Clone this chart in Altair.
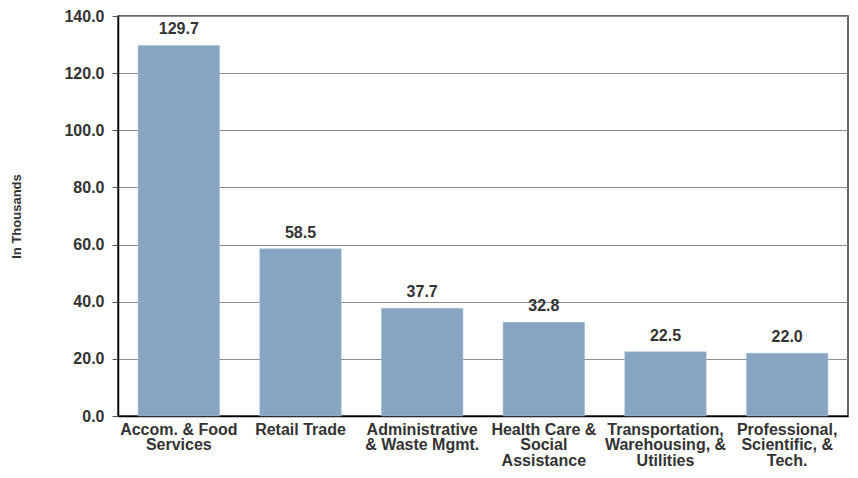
import altair as alt
import pandas as pd

categories = [
    "Accom. & Food|Services",
    "Retail Trade",
    "Administrative|& Waste Mgmt.",
    "Health Care &|Social|Assistance",
    "Transportation,|Warehousing, &|Utilities",
    "Professional,|Scientific, &|Tech.",
]
values = [129.7, 58.5, 37.7, 32.8, 22.5, 22.0]

df = pd.DataFrame({"cat": categories, "val": values})

FONT = "Liberation Sans"

x = alt.X(
    "cat:N",
    sort=categories,
    scale=alt.Scale(paddingInner=0.33, paddingOuter=0.165),
    axis=alt.Axis(
        title=None,
        labelAngle=0,
        labelExpr="split(datum.label, '|')",
        labelFont=FONT,
        labelFontSize=16,
        labelFontWeight="bold",
        labelColor="#333333",
        labelLineHeight=15.5,
        labelPadding=5,
        labelBaseline="top",
        ticks=False,
        domainColor="#000000",
        domainWidth=1.5,
    ),
)

y = alt.Y(
    "val:Q",
    scale=alt.Scale(domain=[0, 140], nice=False),
    axis=alt.Axis(
        title="In Thousands",
        values=[0, 20, 40, 60, 80, 100, 120, 140],
        format=".1f",
        labelFont=FONT,
        labelFontSize=16,
        labelFontWeight="bold",
        labelColor="#333333",
        labelPadding=8,
        titleFont=FONT,
        titleFontSize=13,
        titleFontWeight="bold",
        titleColor="#333333",
        titlePadding=40,
        tickColor="#555555",
        tickSize=6,
        domainColor="#000000",
        domainWidth=1.5,
        gridColor="#8c8c8c",
        gridWidth=1,
    ),
)

bars = alt.Chart(df).mark_bar(color="#87a5c3", stroke="#a9bfd5", strokeWidth=0.5).encode(x=x, y=y)

labels = alt.Chart(df).mark_text(
    font=FONT, fontSize=16, fontWeight="bold", color="#333333",
    baseline="bottom", dy=-8,
).encode(x=alt.X("cat:N", sort=categories), y="val:Q", text=alt.Text("val:Q", format=".1f"))

chart = (
    alt.layer(bars, labels)
    .properties(
        width=730,
        height=400,
        autosize=alt.AutoSizeParams(type="none"),
        padding={"left": 110, "top": 8, "right": 2, "bottom": 53},
    )
    .configure_view(stroke="#333333", strokeWidth=1.5)
)

chart.save("out.html", embed_options={"renderer": "svg", "actions": False})
